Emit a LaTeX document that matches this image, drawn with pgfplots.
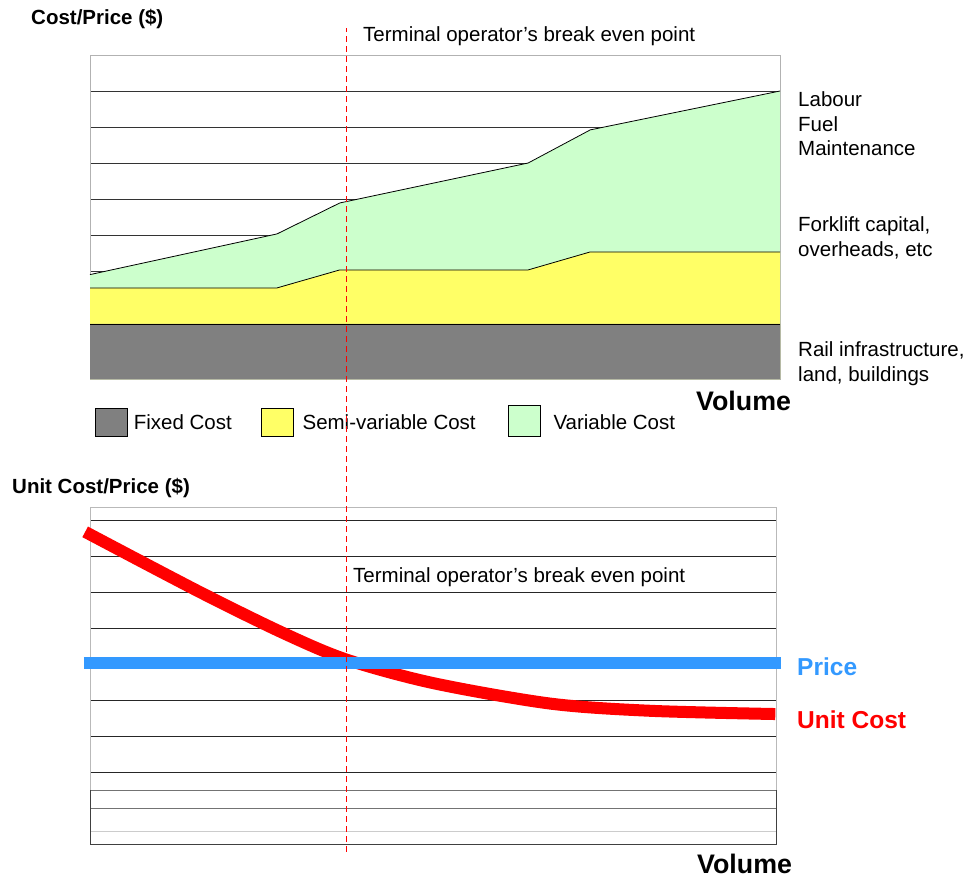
\documentclass[border=0pt]{standalone}
\usepackage{pgfplots}
\pgfplotsset{compat=1.18}
\usepackage{fontspec}
\setmainfont{Liberation Sans}
\definecolor{fixedgray}{HTML}{808080}
\definecolor{semiyellow}{HTML}{FFFF66}
\definecolor{vargreen}{HTML}{CCFFCC}
\definecolor{priceblue}{HTML}{3399FF}
\definecolor{costred}{HTML}{FF0000}
\newcommand{\reg}{\fontsize{20.5}{24.5}\selectfont}
\newcommand{\boldlab}{\fontsize{20.5}{24.5}\selectfont\bfseries}
\newcommand{\bigb}{\fontsize{24.5}{29}\selectfont\bfseries}
\newcommand{\volb}{\fontsize{26.8}{31}\selectfont\bfseries}
\begin{document}
\begin{tikzpicture}
\path[use as bounding box] (0pt,0pt) rectangle (967pt,-877pt);
% ---------------- top chart ----------------
\begin{axis}[
  name=top, at={(90pt,-379pt)}, anchor=south west,
  scale only axis, width=690pt, height=324pt,
  xmin=0, xmax=10, ymin=0, ymax=9,
  xtick=\empty, ytick={0,...,9}, yticklabels={},
  major tick length=0pt,
  ymajorgrids, grid style={black!80, line width=0.8pt},
  axis line style={gray!60, line width=1pt},
  clip=false,
  legend columns=3,
  legend style={draw=none, fill=none, inner sep=0pt, outer sep=0pt,
    at={(0.00725,-0.0802)}, anchor=north west,
    nodes={inner sep=0pt, font=\reg},
    /tikz/column 1/.style={column sep=6pt},
    /tikz/column 2/.style={column sep=29pt},
    /tikz/column 3/.style={column sep=9pt},
    /tikz/column 4/.style={column sep=32pt},
    /tikz/column 5/.style={column sep=13pt}},
  legend cell align=left,
]
% variable cost (top of stack)
\addplot[draw=none, fill=vargreen, forget plot] coordinates
  {(0,0) (0,2.9) (2.71,4.03) (3.62,4.89) (6.35,6.0) (7.25,6.92) (10,8.0) (10,0)} \closedcycle;
\addplot[black, line width=0.8pt, forget plot] coordinates
  {(0,2.9) (2.71,4.03) (3.62,4.89) (6.35,6.0) (7.25,6.92) (10,8.0)};
% semi-variable cost
\addplot[draw=none, fill=semiyellow, forget plot] coordinates
  {(0,0) (0,2.53) (2.71,2.53) (3.62,3.03) (6.35,3.03) (7.25,3.53) (10,3.53) (10,0)} \closedcycle;
\addplot[black, line width=0.8pt, forget plot] coordinates
  {(0,2.53) (2.71,2.53) (3.62,3.03) (6.35,3.03) (7.25,3.53) (10,3.53)};
% fixed cost
\addplot[draw=none, fill=fixedgray, forget plot] coordinates
  {(0,0) (0,1.53) (10,1.53) (10,0)} \closedcycle;
\addplot[black, line width=0.8pt, forget plot] coordinates {(0,1.53) (10,1.53)};
% legend
\addlegendimage{legend image code/.code={\draw[black, line width=0.8pt, fill=fixedgray] (0pt,-14pt) rectangle (32pt,14pt);}}
\addlegendentry{Fixed Cost}
\addlegendimage{legend image code/.code={\draw[black, line width=0.8pt, fill=semiyellow] (0pt,-14pt) rectangle (32pt,14pt);}}
\addlegendentry{Semi-variable Cost}
\addlegendimage{legend image code/.code={\draw[black, line width=0.8pt, fill=vargreen] (0pt,-14pt) rectangle (32pt,17pt);}}
\addlegendentry{Variable Cost}
\end{axis}
\node[anchor=base west, font=\boldlab, inner sep=0pt] at (31pt,-25pt) {Cost/Price (\$)};
\node[anchor=base west, font=\reg, inner sep=0pt] at (363pt,-42pt) {Terminal operator’s break even point};
\node[anchor=base west, font=\reg, inner sep=0pt] at (798pt,-107pt) {Labour};
\node[anchor=base west, font=\reg, inner sep=0pt] at (798pt,-131.5pt) {Fuel};
\node[anchor=base west, font=\reg, inner sep=0pt] at (798pt,-156pt) {Maintenance};
\node[anchor=base west, font=\reg, inner sep=0pt] at (798pt,-232pt) {Forklift capital,};
\node[anchor=base west, font=\reg, inner sep=0pt] at (798pt,-256.5pt) {overheads, etc};
\node[anchor=base west, font=\reg, inner sep=0pt] at (798pt,-357pt) {Rail infrastructure,};
\node[anchor=base west, font=\reg, inner sep=0pt] at (798pt,-381.5pt) {land, buildings};
\node[anchor=base west, font=\volb, inner sep=0pt] at (696pt,-410pt) {Volume};
% ---------------- bottom chart ----------------
\begin{axis}[
  name=bottom, at={(90pt,-844pt)}, anchor=south west,
  scale only axis, width=686pt, height=336pt,
  xmin=0, xmax=9.94, ymin=0, ymax=9.333,
  xtick=\empty, ytick={2,...,9}, yticklabels={},
  extra y ticks={1,1.5}, extra y tick labels={},
  extra y tick style={major grid style={gray!110, line width=0.8pt}},
  major tick length=0pt,
  ymajorgrids, grid style={black!85, line width=0.8pt},
  axis line style={gray!55, line width=1pt},
  clip=false,
]
\draw[gray!40, line width=1pt] (axis cs:0,0.36) -- (axis cs:9.94,0.36);
\draw[black!75, line width=1pt] (axis cs:0,1.5) -- (axis cs:0,0) -- (axis cs:9.94,0) -- (axis cs:9.94,1.5);
\addplot[costred, line width=12pt, smooth] coordinates
  {(-0.07,8.67) (1.59,7.0) (2.80,5.86) (3.72,5.12) (4.97,4.47) (6.67,3.90) (8.12,3.70) (9.93,3.61)};
\addplot[priceblue, line width=11.7pt] coordinates {(-0.087,5.03) (10.01,5.03)};
\draw[costred, line width=1.4pt, dash pattern=on 6pt off 4pt] (axis cs:3.72,-0.22) -- (axis cs:3.72,22.67);
\end{axis}
\node[anchor=base west, font=\boldlab, inner sep=0pt] at (12pt,-493pt) {Unit Cost/Price (\$)};
\node[anchor=base west, font=\reg, inner sep=0pt] at (353pt,-582pt) {Terminal operator’s break even point};
\node[anchor=base west, font=\bigb, text=priceblue, inner sep=0pt] at (797pt,-675pt) {Price};
\node[anchor=base west, font=\bigb, text=costred, inner sep=0pt] at (797pt,-728pt) {Unit Cost};
\node[anchor=base west, font=\volb, inner sep=0pt] at (697pt,-873pt) {Volume};
\end{tikzpicture}
\end{document}
